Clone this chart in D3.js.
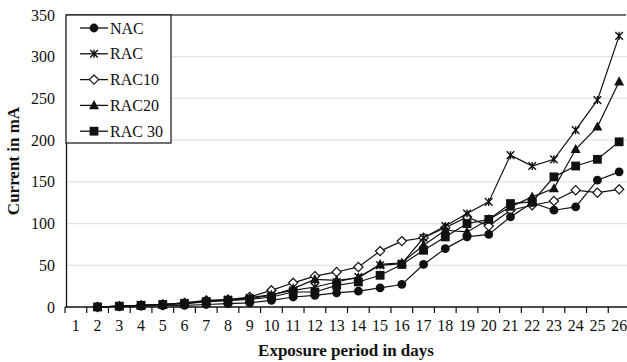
<!DOCTYPE html>
<html><head><meta charset="utf-8">
<script src="https://cdn.jsdelivr.net/npm/d3@7/dist/d3.min.js"></script>
<style>body{margin:0;background:#fff}svg{display:block}text{font-family:"Liberation Serif","Times New Roman",serif;fill:#111}</style>
</head><body><svg id="c" width="627" height="362"></svg>
<script>
const days = d3.range(1, 27).map(String);
const yTicks = [0, 50, 100, 150, 200, 250, 300, 350];
const seriesNames = ["NAC", "RAC", "RAC10", "RAC20", "RAC 30"];
// values for days 2..26 (day 1 has no data)
const NAC   = [0,0.5,1,1.5,2,3,4,5,8,12,14,17,19,23,27,51,70,84,87,108,125,116,120,152,162];
const RAC   = [0,1,2,3,5,7,9,11,15,20,24,30,36,50,52,83,97,112,126,182,169,177,212,248,325];
const RAC10 = [0,1,2,3,5,8,9,12,20,29,37,42,48,67,79,83,95,108,97,116,122,127,140,137,141];
const RAC20 = [0,1,2,3,4,7,8,10,14,22,33,32,35,51,53,74,92,90,105,120,132,142,189,216,270];
const RAC30 = [0,1,2,3,4,6,8,9,12,18,18,26,30,38,51,68,84,100,105,124,126,156,169,177,198];
const seriesVals = [NAC, RAC, RAC10, RAC20, RAC30];
const markers = ["circle", "star", "diamond", "triangle", "square"];

const svg = d3.select("#c");
const m = {l: 66, r: 627, t: 15, b: 307};
const x = d3.scaleBand().domain(days).range([m.l - 1, m.r + 3]);
const y = d3.scaleLinear().domain([0, 350]).range([m.b, m.t]);

// grid
svg.append("g").selectAll("line").data(yTicks.filter(v => v > 0 && v < 350)).join("line")
  .attr("x1", m.l).attr("x2", m.r).attr("y1", d => y(d)).attr("y2", d => y(d))
  .attr("stroke", "#e2e2e2").attr("stroke-width", 1.2);
// top frame
svg.append("line").attr("x1", m.l).attr("x2", m.r - 1).attr("y1", y(350)).attr("y2", y(350))
  .attr("stroke", "#444").attr("stroke-width", 1.3);

// y axis
const ya = svg.append("g").attr("transform", `translate(${m.l},0)`)
  .call(d3.axisLeft(y).tickValues(yTicks).tickSize(0).tickPadding(11));
ya.select(".domain").attr("stroke", "#111").attr("stroke-width", 1.3);
ya.selectAll("text").style("font-family", '"Liberation Serif",serif').style("font-size", "16px").attr("fill", "#111");

// x axis
const xa = svg.append("g").attr("transform", `translate(0,${m.b})`)
  .call(d3.axisBottom(x).tickSize(0).tickPadding(13));
xa.select(".domain").remove();
xa.append("line").attr("x1", m.l - 1).attr("x2", m.r).attr("stroke", "#111").attr("stroke-width", 1.5);
xa.selectAll(".tick text").style("font-family", '"Liberation Serif",serif').style("font-size", "16px").attr("fill", "#111");
xa.selectAll("line.bt").data(days).join("line").attr("class", "bt")
  .attr("x1", d => x(d)).attr("x2", d => x(d)).attr("y1", 0).attr("y2", 6)
  .attr("stroke", "#111").attr("stroke-width", 1.2);

function drawMarker(g, type, cx, cy) {
  if (type === "circle") g.append("circle").attr("cx", cx).attr("cy", cy).attr("r", 4.4).attr("fill", "#111");
  else if (type === "square") g.append("rect").attr("x", cx - 4.4).attr("y", cy - 4.4).attr("width", 8.8).attr("height", 8.8).attr("fill", "#111");
  else if (type === "triangle") g.append("path").attr("d", `M${cx},${cy - 5.4}L${cx + 5},${cy + 3.8}L${cx - 5},${cy + 3.8}Z`).attr("fill", "#111");
  else if (type === "diamond") g.append("path").attr("d", `M${cx},${cy - 4.6}L${cx + 4.6},${cy}L${cx},${cy + 4.6}L${cx - 4.6},${cy}Z`).attr("fill", "#fff").attr("stroke", "#111").attr("stroke-width", 1.2);
  else if (type === "star") {
    g.append("path").attr("d", `M${cx - 3.8},${cy - 3.8}L${cx + 3.8},${cy + 3.8}M${cx + 3.8},${cy - 3.8}L${cx - 3.8},${cy + 3.8}M${cx},${cy - 4}L${cx},${cy + 4}`)
      .attr("stroke", "#111").attr("stroke-width", 1.4).attr("fill", "none");
  }
}

const cx = d => x(d) + x.bandwidth() / 2;
const line = d3.line().x(d => cx(d.day)).y(d => y(d.v));
const order = [2, 0, 3, 4, 1];
order.forEach(i => {
  const pts = seriesVals[i].map((v, j) => ({day: days[j + 1], v}));
  const g = svg.append("g");
  g.append("path").datum(pts).attr("d", line).attr("fill", "none").attr("stroke", "#111").attr("stroke-width", 1.2);
  pts.forEach(p => drawMarker(g, markers[i], cx(p.day), y(p.v)));
});

// legend
const lg = svg.append("g");
lg.append("rect").attr("x", 66).attr("y", 15).attr("width", 105).attr("height", 128)
  .attr("fill", "#fff").attr("stroke", "#111").attr("stroke-width", 1.2);
seriesNames.forEach((n, i) => {
  const ly = 28 + i * 25.8;
  lg.append("line").attr("x1", 80).attr("x2", 108).attr("y1", ly).attr("y2", ly).attr("stroke", "#111").attr("stroke-width", 1.3);
  drawMarker(lg, markers[i], 94, ly);
  lg.append("text").attr("x", 110).attr("y", ly + 5.5).style("font-size", "16px").text(n);
});

// titles
svg.append("text").attr("transform", "translate(19,161) rotate(-90)").attr("text-anchor", "middle")
  .style("font-size", "17px").style("font-weight", "bold").text("Current in mA");
svg.append("text").attr("x", 346).attr("y", 356).attr("text-anchor", "middle")
  .style("font-size", "17px").style("font-weight", "bold").text("Exposure period in days");
</script></body></html>
